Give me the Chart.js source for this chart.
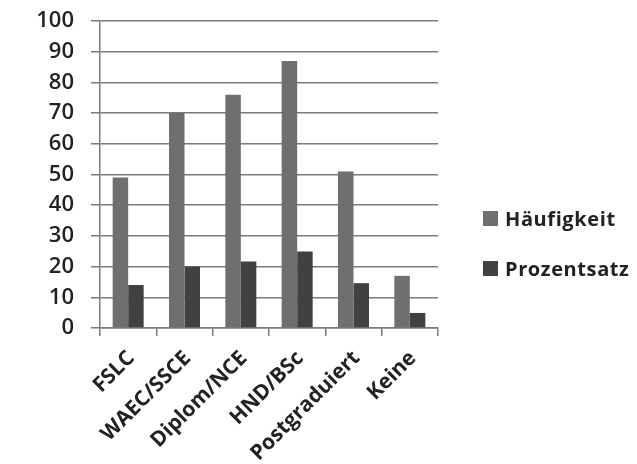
<!DOCTYPE html>
<html>
<head>
<meta charset="utf-8">
<script src="https://cdn.jsdelivr.net/npm/chart.js@4.4.1/dist/chart.umd.min.js"></script>
<style>
  html, body { margin: 0; padding: 0; background: #fff; }
  #wrap { position: relative; width: 637px; height: 464px; }
  #legend { position: absolute; left: 483px; top: 203px; font: 700 20px "Open Sans", sans-serif; letter-spacing: 0.6px; color: #222; }
  #legend div { display: flex; align-items: center; height: 30px; margin-bottom: 20px; }
  #legend span.box { width: 15px; height: 15px; margin-right: 7px; display: inline-block; }
</style>
</head>
<body>
<div id="wrap">
  <canvas id="chart" width="637" height="464"></canvas>
  <div id="legend"></div>
</div>
<script>
// Bildungsabschluss — Häufigkeit und Prozentsatz
const categories  = ['FSLC', 'WAEC/SSCE', 'Diplom/NCE', 'HND/BSc', 'Postgraduiert', 'Keine'];
const haeufigkeit = [49, 70, 76, 87, 51, 17];
const prozentsatz = [14, 20, 21.7, 24.9, 14.6, 4.9];
const yTicks      = [0, 10, 20, 30, 40, 50, 60, 70, 80, 90, 100];

const seriesColors = { h: '#6f6f6f', p: '#414141' };
const gridColor = '#7a7a7a';

const chart = new Chart(document.getElementById('chart').getContext('2d'), {
    type: 'bar',
    data: {
        labels: categories,
        datasets: [
            { label: 'Häufigkeit', data: haeufigkeit, backgroundColor: seriesColors.h, borderWidth: 0 },
            { label: 'Prozentsatz', data: prozentsatz, backgroundColor: seriesColors.p, borderWidth: 0 }
        ]
    },
    options: {
        responsive: false, animation: false,
        layout: { padding: { top: 21, right: 199, left: 0, bottom: 0 } },
        plugins: { legend: { display: false }, tooltip: { enabled: false } },
        datasets: { bar: { categoryPercentage: 0.55, barPercentage: 1 } },
        scales: {
            x: {
                grid: { display: true, drawOnChartArea: false, offset: true, color: gridColor, lineWidth: 1.5, tickLength: 8 },
                border: { display: true, color: gridColor, width: 1.5 },
                ticks: {
                    color: '#222', maxRotation: 45, minRotation: 45, autoSkip: false, padding: 10, labelOffset: 3,
                    font: { family: '"Open Sans", sans-serif', size: 21, weight: '700' }
                },
                afterFit: s => { s.height = 136; s.paddingLeft = 0; s.paddingRight = 0; }
            },
            y: {
                min: 0, max: 100,
                afterBuildTicks: s => { s.ticks = yTicks.map(v => ({ value: v })); },
                grid: { color: gridColor, lineWidth: 1.5, tickLength: 9 },
                border: { display: true, color: gridColor, width: 1.5 },
                ticks: {
                    color: '#222', padding: 17,
                    font: { family: '"Open Sans", sans-serif', size: 22, weight: '600' }
                },
                afterFit: s => { s.width = 100; s.paddingTop = 0; s.paddingBottom = 0; }
            }
        }
    }
});

// legend built from the datasets
const legendEl = document.getElementById('legend');
chart.data.datasets.forEach(ds => {
    const row = document.createElement('div');
    const box = document.createElement('span');
    box.className = 'box';
    box.style.background = ds.backgroundColor;
    row.appendChild(box);
    row.appendChild(document.createTextNode(ds.label));
    legendEl.appendChild(row);
});
</script>
</body>
</html>
